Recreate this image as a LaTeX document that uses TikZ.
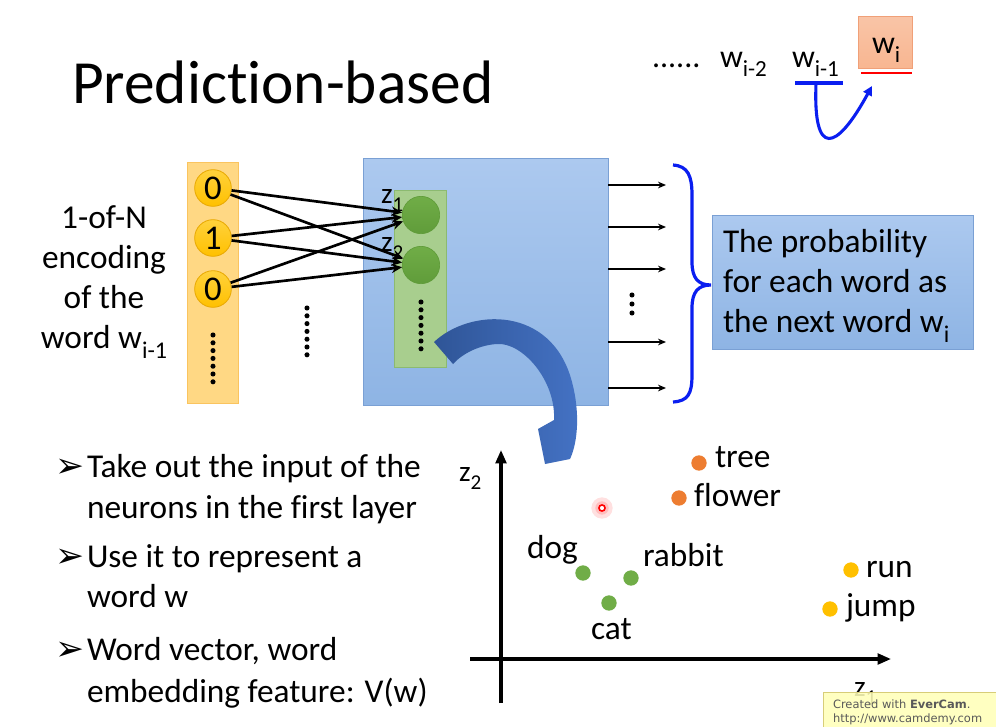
\documentclass[tikz,border=0pt]{standalone}
\usepackage{fontspec}
\setmainfont{Carlito}[Ligatures=NoCommon]
\newfontfamily\dejavu{DejaVu Sans}
\usetikzlibrary{arrows.meta,calc}
\definecolor{boxblueT}{RGB}{172,201,239}
\definecolor{boxblueB}{RGB}{142,180,228}
\definecolor{boxedge}{RGB}{122,160,212}
\definecolor{colyellow}{RGB}{255,216,132}
\definecolor{colyedge}{RGB}{250,196,95}
\definecolor{gold}{RGB}{255,192,0}
\definecolor{goldL}{RGB}{255,210,60}
\definecolor{goldedge}{RGB}{232,168,0}
\definecolor{colgreen}{RGB}{168,206,142}
\definecolor{colgedge}{RGB}{140,186,112}
\definecolor{neugreen}{RGB}{112,173,71}
\definecolor{neugreenD}{RGB}{96,156,58}
\definecolor{bandblue}{RGB}{68,114,196}
\definecolor{bandblueD}{RGB}{47,85,151}
\definecolor{braceblue}{RGB}{10,30,240}
\definecolor{dotorange}{RGB}{237,125,49}
\definecolor{wifill}{RGB}{248,182,145}
\definecolor{wiedge}{RGB}{240,160,120}
\definecolor{wmfill}{RGB}{255,255,185}
\definecolor{wmedge}{RGB}{215,205,120}
\newcommand{\sbs}[1]{\raisebox{-0.3em}{\scalebox{0.72}{#1}}}
\begin{document}
\begin{tikzpicture}[x=0.75pt,y=-0.75pt,
  font=\fontsize{25}{30}\selectfont,
  txt/.style={anchor=base west, inner sep=0pt, outer sep=0pt},
  ctxt/.style={anchor=base, inner sep=0pt, outer sep=0pt},
  incirc/.style={circle, minimum size=27.5pt, inner sep=0pt, top color=goldL, bottom color=gold, draw=goldedge, line width=0.6pt, font=\fontsize{26}{28}\selectfont},
  hcirc/.style={circle, minimum size=28pt, inner sep=0pt, top color=neugreen, bottom color=neugreenD, draw=neugreenD, line width=0.5pt},
  conn/.style={-{Stealth[length=8pt,width=7pt]}, line width=2pt},
  outarr/.style={-{Stealth[length=6pt,width=5pt]}, line width=1.5pt},
  axisarr/.style={-{Triangle[length=10pt,width=8pt]}, line width=2.3pt},
  wdot/.style={circle, minimum size=11.5pt, inner sep=0pt},
]
\useasboundingbox (0,0) rectangle (996,726);
\fill[white] (0,0) rectangle (996,726);

% title
\node[txt, font=\fontsize{46}{50}\selectfont] (title) at (72,103) {Prediction-based};

% top right sequence
\node[txt, font=\fontsize{24}{28}\selectfont] (seqdots) at (652,67) {......};
\node[txt, font=\fontsize{24}{28}\selectfont] (wim2) at (720,67) {w\sbs{i-2}};
\node[txt, font=\fontsize{24}{28}\selectfont] (wim1) at (792,67) {w\sbs{i-1}};
\draw[braceblue, line width=2.3pt] (795,83) coordinate (ul1a) -- (843,83) coordinate (ul1b);
\path[top color=wifill!80!white, bottom color=wifill, draw=wiedge, line width=0.6pt] (858,16) rectangle (912,68);
\node[txt, font=\fontsize{24}{28}\selectfont] (wi) at (872,53) {w\sbs{i}};
\draw[red, line width=1.6pt] (861,73) coordinate (ul2a) -- (912,73) coordinate (ul2b);
\coordinate (cs) at (816,84);
\coordinate (ce) at (872,86);
\draw[braceblue, line width=2.3pt, -{Triangle[length=7pt,width=7pt]}] (cs) .. controls (813,158) and (836,152) .. (ce);

% left text
\node[ctxt] (e1) at (104,228) {1-of-N};
\node[ctxt] (e2) at (104,268) {encoding};
\node[ctxt] (e3) at (104,308) {of the};
\node[ctxt] (e4) at (104,348) {word w\sbs{i-1}};

% input column
\path[fill=colyellow, draw=colyedge, line width=0.6pt] (187,162) rectangle (238,403);
\node[incirc] (x1) at (213,188) {0};
\node[incirc] (x2) at (213,238) {1};
\node[incirc] (x3) at (213,289) {0};
\foreach \k in {0,...,6} \fill (213,335+\k*7.8) circle[radius=1.9pt];
\foreach \k in {0,...,6} \fill (307,308+\k*7.8) circle[radius=1.9pt];

% big blue box
\path[top color=boxblueT, bottom color=boxblueB, draw=boxedge, line width=0.6pt] (363,158) rectangle (608,405);
\path[fill=colgreen, draw=colgedge, line width=0.6pt] (394,190) rectangle (446,367);
\node[hcirc] (h1) at (421,215) {};
\node[hcirc] (h2) at (421,265) {};
\node[txt, font=\fontsize{22}{24}\selectfont] (z1) at (381,203) {z\sbs{1}};
\node[txt, font=\fontsize{22}{24}\selectfont] (z2) at (381,251) {z\sbs{2}};
\foreach \k in {0,...,6} \fill (421,302+\k*7.8) circle[radius=1.9pt];

% connections
\foreach \a in {x1,x2,x3}{
  \draw[conn] (\a) -- (h1);
  \draw[conn] (\a) -- (h2);
}

% outputs
\foreach \y [count=\k] in {185,227,269,342,388}{
  \coordinate (os\k) at (608,\y);
  \coordinate (oe\k) at (666,\y);
  \draw[outarr] (os\k) -- (oe\k);
}
\foreach \y in {295,304,313} \fill (632,\y) circle[radius=1.9pt];

% brace
\draw[braceblue, line width=2.4pt] (673,165) .. controls (688,166) and (692,176) .. (692,195)
  -- (692,262) .. controls (692,278) and (698,285) .. (711,285)
  .. controls (698,285) and (692,292) .. (692,308)
  -- (692,375) .. controls (692,394) and (688,401) .. (673,402);

% probability box
\path[top color=boxblueT, bottom color=boxblueB, draw=boxedge, line width=0.6pt] (712,215) rectangle (973,349);
\node[txt] (p1) at (723,252) {The probability};
\node[txt] (p2) at (723,292) {for each word as};
\node[txt] (p3) at (723,332) {the next word w\sbs{i}};

% big curved arrow
\path[left color=bandblueD, right color=bandblue] (434,342) .. controls (470,308) and (552,305) .. (572,382)
  .. controls (580,412) and (578,442) .. (570,459) -- (545,464) -- (538,429) -- (554,420)
  .. controls (556,380) and (522,342) .. (497,344)
  .. controls (480,345) and (463,353) .. (453,364) -- cycle;

% bullets
\foreach \y/\t [count=\k] in {477/Take out the input of the, 567/Use it to represent a, 660/{Word vector, word}}{
  \node[txt, font=\dejavu\fontsize{26}{28}\selectfont] (b\k) at (55,\y) {➢};
  \node[txt] (bt\k) at (87,\y) {\t};
}
\node[txt] (bc1) at (87,518) {neurons in the first layer};
\node[txt] (bc2) at (87,607) {word w};
\node[txt] (bc3) at (87,702) {embedding feature: V(w)};

% plot axes
\coordinate (ya) at (501,703);
\coordinate (yb) at (501,450);
\coordinate (xa) at (470,659);
\coordinate (xb) at (891,659);
\draw[axisarr] (ya) -- (yb);
\draw[axisarr] (xa) -- (xb);
\node[txt, font=\fontsize{22}{26}\selectfont] (zz2) at (459,481) {z\sbs{2}};
\node[txt, font=\fontsize{22}{26}\selectfont] (zz1) at (854,696) {z\sbs{1}};

% word points
\node[wdot, fill=dotorange] (dtree) at (699,463) {};
\node[txt] (ltree) at (715,467) {tree};
\node[wdot, fill=dotorange] (dflower) at (679,498) {};
\node[txt] (lflower) at (694,506) {flower};
\node[wdot, fill=neugreen] (ddog) at (583,573) {};
\node[txt] (ldog) at (527,558) {dog};
\node[wdot, fill=neugreen] (drabbit) at (631,578) {};
\node[txt] (lrabbit) at (643,566) {rabbit};
\node[wdot, fill=neugreen] (dcat) at (609,603) {};
\node[txt] (lcat) at (591,639) {cat};
\node[wdot, fill=gold] (drun) at (851,570) {};
\node[txt] (lrun) at (866,577) {run};
\node[wdot, fill=gold] (djump) at (830,609) {};
\node[txt] (ljump) at (846,616) {jump};

% laser pointer
\fill[red, opacity=0.12] (602,508) circle[radius=8pt];
\fill[red, opacity=0.15] (602,508) circle[radius=5pt];
\draw[red, line width=1.2pt, fill=white] (602,508) circle[radius=2.3pt];

% watermark
\path[fill=wmfill, fill opacity=0.88, draw=wmedge, line width=0.5pt] (823,692) rectangle (996,727);
\node[txt, font=\dejavu\fontsize{8.6}{10}\selectfont, text=black!65] (wm1) at (833,708) {Created with \textbf{EverCam}.};
\node[txt, font=\dejavu\fontsize{8.6}{10}\selectfont, text=black!65] (wm2) at (833,722) {http://www.camdemy.com};
\end{tikzpicture}
\end{document}
